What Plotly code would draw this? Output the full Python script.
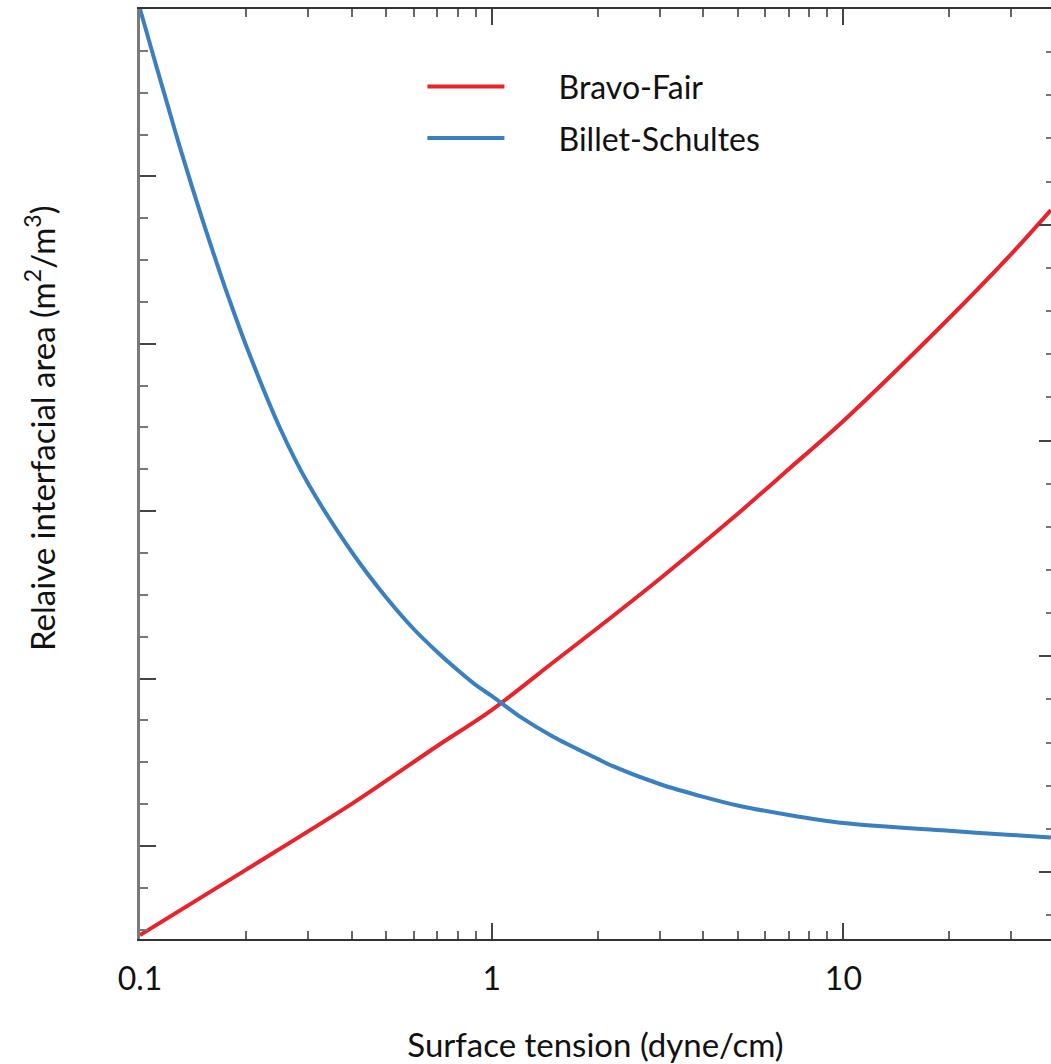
import plotly.graph_objects as go

# Surface tension (dyne/cm)
tension_bravo = [0.1, 0.2, 0.4, 0.7, 1.0, 1.5, 2, 3, 5, 7, 10, 20, 30, 38.9]
area_bravo = [-0.532, -0.143, 0.251, 0.597, 0.812, 1.099, 1.302, 1.595, 1.983,
              2.252, 2.539, 3.154, 3.536, 3.799]

tension_billet = [0.1, 0.11, 0.12, 0.13, 0.15, 0.17, 0.18, 0.2, 0.25, 0.3, 0.4,
                  0.5, 0.6, 0.7, 0.8, 0.9, 1.0, 1.2, 1.5, 2.0, 2.2, 3, 4, 5, 7,
                  10, 20, 30, 38.9]
area_billet = [5.000, 4.695, 4.421, 4.170, 3.751, 3.405, 3.256, 2.993, 2.497,
               2.168, 1.756, 1.487, 1.296, 1.159, 1.051, 0.962, 0.896, 0.774,
               0.651, 0.520, 0.478, 0.370, 0.293, 0.242, 0.185, 0.137, 0.090,
               0.066, 0.051]

x_tick_vals = [0.1, 1, 10]
x_tick_text = ["0.1", "1", "10"]
x_minor_vals = [0.2, 0.3, 0.4, 0.5, 0.6, 0.7, 0.8, 0.9,
                2, 3, 4, 5, 6, 7, 8, 9, 20, 30]
left_major = [0, 1, 2, 3, 4, 5]
right_major = [0, 1, 2, 3, 4]
series_names = ["Bravo-Fair", "Billet-Schultes"]

RED = "#e8232b"
BLUE = "#3a7fbf"
FONT = "Lato"
PAD = "\u00a0" * 6

fig = go.Figure()
fig.add_trace(go.Scatter(
    x=tension_bravo, y=area_bravo, mode="lines", name=PAD + series_names[0],
    line=dict(color=RED, width=4, shape="spline", smoothing=0.8),
    legendgroup="a"))
fig.add_trace(go.Scatter(
    x=tension_billet, y=area_billet, mode="lines", name=PAD + series_names[1],
    line=dict(color=BLUE, width=4, shape="spline", smoothing=0.8),
    legendgroup="b"))
# companion right axis (ticks only)
fig.add_trace(go.Scatter(x=[], y=[], yaxis="y2", showlegend=False,
                         hoverinfo="skip"))

fig.update_layout(
    width=1051, height=1064,
    margin=dict(l=140, r=0, t=9, b=125),
    paper_bgcolor="white", plot_bgcolor="white",
    font=dict(family=FONT, size=30, color="#111"),
    showlegend=True,
    legend=dict(x=0.31, y=0.946, xanchor="left", yanchor="top",
                bgcolor="rgba(0,0,0,0)", font=dict(size=32, family=FONT),
                itemwidth=77, tracegroupgap=7),
    xaxis=dict(
        type="log", range=[-1, 1.5903],
        showline=True, linecolor="#333", linewidth=2, mirror="ticks",
        ticks="inside", ticklen=16, tickwidth=2, tickcolor="#444",
        tickmode="array", tickvals=x_tick_vals, ticktext=x_tick_text,
        tickfont=dict(size=32, family=FONT, color="#111"),
        ticklabelstandoff=11,
        minor=dict(ticks="inside", ticklen=8, tickwidth=1.5, tickcolor="#666",
                   tickmode="array", tickvals=x_minor_vals),
        showgrid=False, zeroline=False,
        title=dict(text="Surface tension (dyne/cm)",
                   font=dict(size=33, family=FONT, color="#111"), standoff=37),
    ),
    yaxis=dict(
        range=[-0.556, 5.0],
        showline=True, linecolor="#7a7a7a", linewidth=3,
        ticks="inside", ticklen=16, tickwidth=2, tickcolor="#444",
        tickmode="array", tickvals=left_major, showticklabels=False,
        minor=dict(ticks="inside", ticklen=8, tickwidth=1.5, tickcolor="#777",
                   dtick=0.25, tick0=0),
        showgrid=False, zeroline=False,
    ),
    yaxis2=dict(
        overlaying="y", side="right", range=[-0.310, 4.0],
        showline=False, ticks="inside", ticklen=12, tickwidth=2,
        tickcolor="#444", tickmode="array", tickvals=right_major,
        showticklabels=False,
        minor=dict(ticks="inside", ticklen=5, tickwidth=1.5, tickcolor="#777",
                   dtick=0.2, tick0=0),
        showgrid=False, zeroline=False,
    ),
    annotations=[dict(
        text="Relaive interfacial area (m<sup>2</sup>/m<sup>3</sup>)",
        xref="paper", yref="paper", x=(40 - 140) / 911, y=(939 - 428) / 930,
        xanchor="center", yanchor="middle", textangle=-90, showarrow=False,
        font=dict(size=33, family=FONT, color="#111"))],
)

fig.write_html("out.html")
